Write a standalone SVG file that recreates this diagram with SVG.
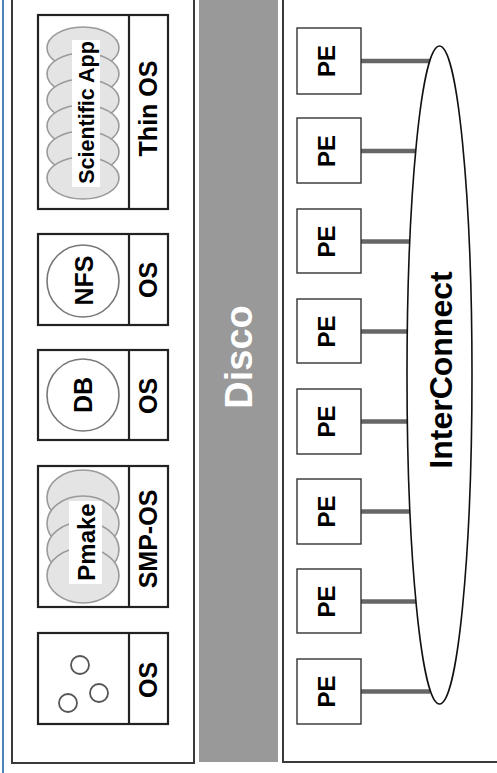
<svg xmlns="http://www.w3.org/2000/svg" width="497" height="773" viewBox="0 0 497 773">
<style>
.panel{fill:#fff;stroke:#3a3a3a;stroke-width:2}
.box{fill:#fff;stroke:#222;stroke-width:2.2}
.pe{fill:#fff;stroke:#333;stroke-width:1.4}
.circ{fill:#fff;stroke:#777;stroke-width:1.6}
.disc{fill:#e4e4e4;stroke:#9a9a9a;stroke-width:1.6}
.small{fill:none;stroke:#555;stroke-width:1.8}
.t{font-family:"Liberation Sans",Arial,sans-serif;font-weight:bold;font-size:25px;fill:#000;text-anchor:middle}
.conn{stroke:#666;stroke-width:4.5;fill:none}
</style>
<rect x="0" y="0" width="497" height="773" fill="#fff"/>
<line x1="3" y1="0" x2="3" y2="773" stroke="#4f81bd" stroke-width="2"/>
<g id="left-panel">
<rect class="panel" x="12" y="-10" width="182" height="773"/>
</g>
<g id="disco">
<rect x="199" y="0" width="79" height="762" fill="#999"/>
<text class="t" transform="translate(238,357) rotate(-90)" x="0" y="14" style="font-size:38px;fill:#fff">Disco</text>
</g>
<g id="right-panel">
<rect class="panel" x="283" y="-10" width="230" height="772"/>
</g>
<g id="app-scientific">
<rect class="box" x="38" y="15" width="130" height="194"/>
<line x1="129" y1="15" x2="129" y2="209" stroke="#222" stroke-width="2.2"/>
<ellipse class="disc" cx="83" cy="48" rx="36" ry="21"/>
<ellipse class="disc" cx="83" cy="74" rx="36" ry="21"/>
<ellipse class="disc" cx="83" cy="100" rx="36" ry="21"/>
<ellipse class="disc" cx="83" cy="126" rx="36" ry="21"/>
<ellipse class="disc" cx="83" cy="152" rx="36" ry="21"/>
<ellipse class="disc" cx="83" cy="178" rx="36" ry="21"/>
<rect x="72" y="40" width="28" height="147" fill="#fff"/>
<text class="t" transform="translate(86,112.5) rotate(-90)" x="0" y="8" style="font-size:21.5px">Scientific App</text>
<text class="t" transform="translate(148,108.5) rotate(-90)" x="0" y="9">Thin OS</text>
</g>
<g id="app-nfs">
<rect class="box" x="38" y="234" width="130" height="91"/>
<line x1="129" y1="234" x2="129" y2="325" stroke="#222" stroke-width="2.2"/>
<circle class="circ" cx="83" cy="281" r="36"/>
<text class="t" transform="translate(83.5,280.5) rotate(-90)" x="0" y="9">NFS</text>
<text class="t" transform="translate(148,280) rotate(-90)" x="0" y="9">OS</text>
</g>
<g id="app-db">
<rect class="box" x="38" y="350" width="130" height="90"/>
<line x1="129" y1="350" x2="129" y2="440" stroke="#222" stroke-width="2.2"/>
<circle class="circ" cx="83" cy="395" r="36"/>
<text class="t" transform="translate(83,395) rotate(-90)" x="0" y="9">DB</text>
<text class="t" transform="translate(148,396) rotate(-90)" x="0" y="9">OS</text>
</g>
<g id="app-pmake">
<rect class="box" x="38" y="466" width="130" height="141"/>
<line x1="129" y1="466" x2="129" y2="607" stroke="#222" stroke-width="2.2"/>
<ellipse class="disc" cx="83" cy="497.5" rx="36" ry="27.5"/>
<ellipse class="disc" cx="83" cy="523.5" rx="36" ry="27.5"/>
<ellipse class="disc" cx="83" cy="549.5" rx="36" ry="27.5"/>
<ellipse class="disc" cx="83" cy="575.5" rx="36" ry="27.5"/>
<rect x="69" y="501" width="33" height="83" fill="#fff"/>
<text class="t" transform="translate(86,542) rotate(-90)" x="0" y="8.6" style="font-size:24px">Pmake</text>
<text class="t" transform="translate(148,539) rotate(-90)" x="0" y="9">SMP-OS</text>
</g>
<g id="app-threads">
<rect class="box" x="38" y="633" width="130" height="91"/>
<line x1="129" y1="633" x2="129" y2="724" stroke="#222" stroke-width="2.2"/>
<circle class="small" cx="80" cy="665" r="9"/>
<circle class="small" cx="99" cy="693" r="9"/>
<circle class="small" cx="68" cy="703" r="9"/>
<text class="t" transform="translate(148,680) rotate(-90)" x="0" y="9">OS</text>
</g>
<g id="connectors">
<line class="conn" x1="361" y1="61" x2="430" y2="61"/>
<line class="conn" x1="361" y1="151" x2="417" y2="151"/>
<line class="conn" x1="361" y1="241.5" x2="411" y2="241.5"/>
<line class="conn" x1="361" y1="331.5" x2="408" y2="331.5"/>
<line class="conn" x1="361" y1="421.5" x2="408" y2="421.5"/>
<line class="conn" x1="361" y1="511.5" x2="410" y2="511.5"/>
<line class="conn" x1="361" y1="601.5" x2="416" y2="601.5"/>
<line class="conn" x1="361" y1="691.5" x2="430" y2="691.5"/>
</g>
<g id="interconnect">
<ellipse cx="439.5" cy="375" rx="32.5" ry="329" fill="#fff" stroke="#111" stroke-width="1.6"/>
<text class="t" transform="translate(440.5,370) rotate(-90)" x="0" y="11.5" style="font-size:32px">InterConnect</text>
</g>
<g id="pe1"><rect class="pe" x="297" y="28" width="64" height="66"/><text class="t" transform="translate(326,61) rotate(-90)" x="0" y="8.6" style="font-size:24px">PE</text></g>
<g id="pe2"><rect class="pe" x="297" y="118" width="64" height="65"/><text class="t" transform="translate(326,151) rotate(-90)" x="0" y="8.6" style="font-size:24px">PE</text></g>
<g id="pe3"><rect class="pe" x="297" y="209" width="64" height="64"/><text class="t" transform="translate(326,241.5) rotate(-90)" x="0" y="8.6" style="font-size:24px">PE</text></g>
<g id="pe4"><rect class="pe" x="297" y="299" width="64" height="64"/><text class="t" transform="translate(326,331.5) rotate(-90)" x="0" y="8.6" style="font-size:24px">PE</text></g>
<g id="pe5"><rect class="pe" x="297" y="389" width="64" height="65"/><text class="t" transform="translate(326,421.5) rotate(-90)" x="0" y="8.6" style="font-size:24px">PE</text></g>
<g id="pe6"><rect class="pe" x="297" y="479" width="64" height="65"/><text class="t" transform="translate(326,511.5) rotate(-90)" x="0" y="8.6" style="font-size:24px">PE</text></g>
<g id="pe7"><rect class="pe" x="297" y="569" width="64" height="64"/><text class="t" transform="translate(326,601.5) rotate(-90)" x="0" y="8.6" style="font-size:24px">PE</text></g>
<g id="pe8"><rect class="pe" x="297" y="659" width="64" height="65"/><text class="t" transform="translate(326,691.5) rotate(-90)" x="0" y="8.6" style="font-size:24px">PE</text></g>
</svg>
